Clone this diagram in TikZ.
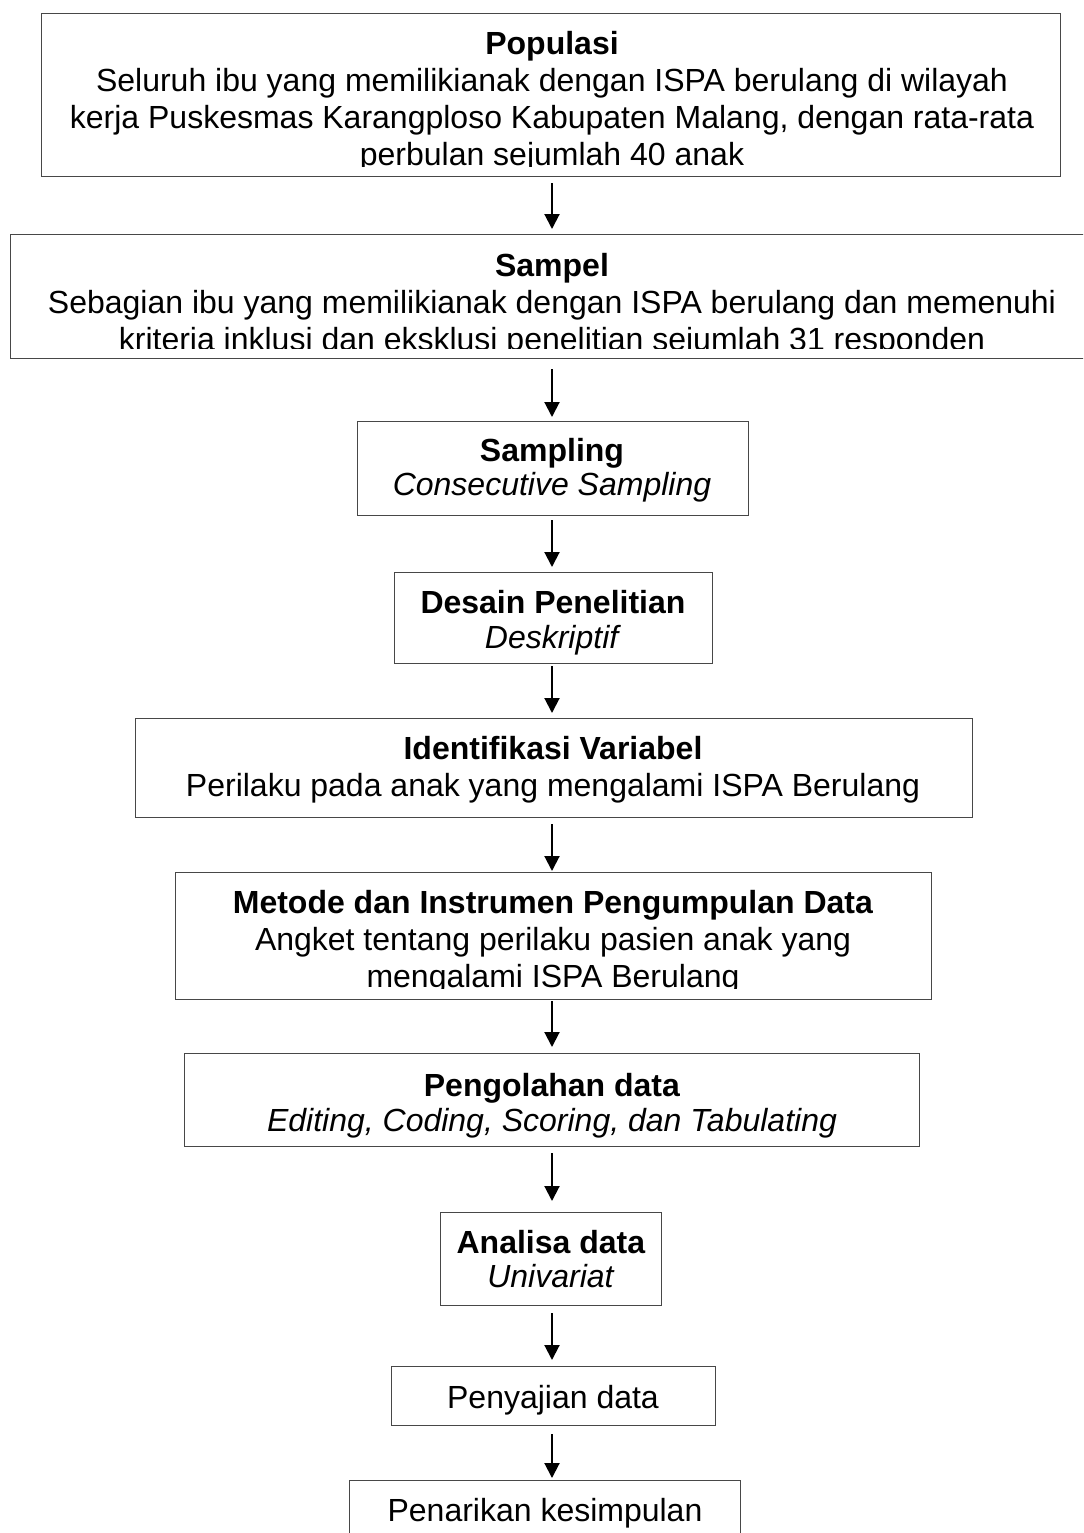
\documentclass[tikz,border=0pt]{standalone}
\usepackage{fontspec}
\setmainfont{Liberation Sans}
\usetikzlibrary{arrows.meta}
\begin{document}
\begin{tikzpicture}[x=0.5pt,y=-0.5pt,
  box/.style={draw=black!72, line width=0.6pt, rectangle, inner sep=0pt, anchor=north west},
  txt/.style={anchor=north, align=center, inner sep=0pt, font=\fontsize{16}{18.4}\selectfont},
  tight/.style={font=\fontsize{16}{16.6}\selectfont},
  mid/.style={font=\fontsize{16}{17.5}\selectfont},
  arr/.style={-{Triangle[width=7.5pt,length=7.5pt]}, line width=1pt}]
\useasboundingbox (0,0) rectangle (1083,1533);
\clip (0,0) rectangle (1083,1533);

% frames of the steps
\node[box, minimum width=509.5pt, minimum height=81.5pt] (pop) at (41,13) {};
\node[box, minimum width=545pt,   minimum height=62pt]   (sam) at (10,234) {};
\node[box, minimum width=195.5pt, minimum height=47pt]   (smp) at (357,421) {};
\node[box, minimum width=159pt,   minimum height=45.5pt] (des) at (394,572) {};
\node[box, minimum width=418.5pt, minimum height=49.5pt] (idf) at (135,718) {};
\node[box, minimum width=378pt,   minimum height=63.5pt] (met) at (175,872) {};
\node[box, minimum width=367.5pt, minimum height=46.5pt] (olh) at (184,1053) {};
\node[box, minimum width=110.5pt, minimum height=46.5pt] (ana) at (440,1212) {};
\node[box, minimum width=162pt,   minimum height=29.5pt] (saj) at (391,1366) {};
\node[box, minimum width=195.5pt, minimum height=40pt]   (tar) at (349,1480) {};

% texts of the steps (long ones are cut at the lower frame edge)
\begin{scope}
  \clip (41,13) rectangle (1060,166);
  \node[txt] (popT) at (552,30.5) {\rule{0pt}{12pt}\textbf{Populasi}\\
    Seluruh ibu yang memilikianak dengan ISPA berulang di wilayah\\
    kerja Puskesmas Karangploso Kabupaten Malang, dengan rata-rata\\
    perbulan sejumlah 40 anak};
\end{scope}
\begin{scope}
  \clip (10,234) rectangle (1083,348);
  \node[txt] (samT) at (552,252.5) {\rule{0pt}{12pt}\textbf{Sampel}\\
    Sebagian ibu yang memilikianak dengan ISPA berulang dan memenuhi\\
    kriteria inklusi dan eksklusi penelitian sejumlah 31 responden};
\end{scope}
\node[txt, tight] (smpT) at (552,437.5) {\rule{0pt}{12pt}\textbf{Sampling}\\ \textit{Consecutive Sampling}};
\node[txt, mid] (desT) at (553,589.5) {\rule{0pt}{12pt}\textbf{Desain Penelitian}\\ \textit{Deskriptif}};
\node[txt] (idfT) at (553,735.5) {\rule{0pt}{12pt}\textbf{Identifikasi Variabel}\\ Perilaku pada anak yang mengalami ISPA Berulang};
\begin{scope}
  \clip (175,872) rectangle (931,988);
  \node[txt] (metT) at (553,889.5) {\rule{0pt}{12pt}\textbf{Metode dan Instrumen Pengumpulan Data}\\
    Angket tentang perilaku pasien anak yang\\
    mengalami ISPA Berulang};
\end{scope}
\node[txt, mid] (olhT) at (552,1072.5) {\rule{0pt}{12pt}\textbf{Pengolahan data}\\ \textit{Editing, Coding, Scoring, dan Tabulating}};
\node[txt, tight] (anaT) at (551,1229.5) {\rule{0pt}{12pt}\textbf{Analisa data}\\ \textit{Univariat}};
\node[txt] (sajT) at (553,1384.5) {\rule{0pt}{12pt}Penyajian data};
\node[txt] (tarT) at (545,1497.5) {\rule{0pt}{12pt}Penarikan kesimpulan};

% flow arrows along one vertical axis
\coordinate (ax) at (552,0);
\draw[arr, shorten <=3pt,   shorten >=2.5pt] (ax |- pop.south) -- (ax |- sam.north);
\draw[arr, shorten <=5pt,   shorten >=2pt]   (ax |- sam.south) -- (ax |- smp.north);
\draw[arr, shorten <=2pt,   shorten >=2.5pt] (ax |- smp.south) -- (ax |- des.north);
\draw[arr, shorten <=1pt,   shorten >=2.5pt] (ax |- des.south) -- (ax |- idf.north);
\draw[arr, shorten <=3pt,   shorten >=0.5pt] (ax |- idf.south) -- (ax |- met.north);
\draw[arr, shorten <=0.5pt, shorten >=3pt]   (ax |- met.south) -- (ax |- olh.north);
\draw[arr, shorten <=3pt,   shorten >=5.5pt] (ax |- olh.south) -- (ax |- ana.north);
\draw[arr, shorten <=3.5pt, shorten >=3pt]   (ax |- ana.south) -- (ax |- saj.north);
\draw[arr, shorten <=4pt,   shorten >=1pt]   (ax |- saj.south) -- (ax |- tar.north);
\end{tikzpicture}
\end{document}
